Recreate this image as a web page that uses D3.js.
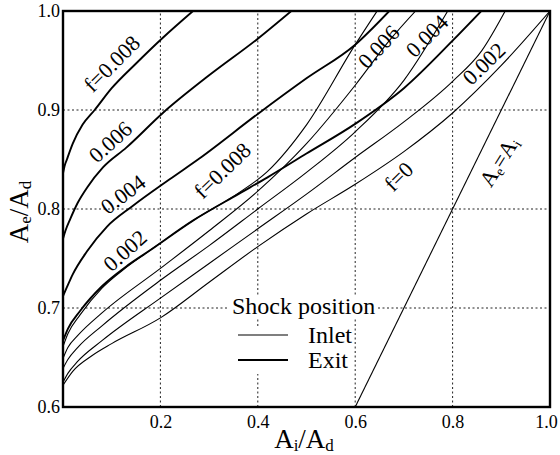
<!DOCTYPE html>
<html>
<head>
<meta charset="utf-8">
<script src="https://cdn.jsdelivr.net/npm/d3@7"></script>
<style>
  body { margin: 0; background: #fff; }
</style>
</head>
<body>
<div id="chart"></div>
<script>
// Shock at exit (thick lines), values as [Ai/Ad, Ae/Ad]
const exit008 = [[0, 0.836], [0.003, 0.843], [0.008, 0.85], [0.02, 0.866], [0.04, 0.885], [0.065, 0.9], [0.1, 0.922], [0.15, 0.947], [0.205, 0.973], [0.267, 1.0]];
const exit006 = [[0, 0.77], [0.005, 0.778], [0.015, 0.79], [0.03, 0.806], [0.05, 0.822], [0.082, 0.842], [0.13, 0.862], [0.205, 0.897], [0.3, 0.935], [0.4, 0.972], [0.469, 1.0]];
const exit004 = [[0, 0.712], [0.008, 0.721], [0.02, 0.734], [0.049, 0.757], [0.09, 0.782], [0.143, 0.803], [0.219, 0.83], [0.28, 0.851], [0.4, 0.896], [0.5, 0.932], [0.6, 0.966], [0.67, 1.0]];
const exit002 = [[0, 0.667], [0.01, 0.679], [0.035, 0.697], [0.08, 0.722], [0.13, 0.742], [0.178, 0.758], [0.266, 0.788], [0.36, 0.815], [0.42, 0.832], [0.5, 0.856], [0.6, 0.886], [0.7, 0.922], [0.8, 0.97], [0.859, 1.0]];

// Shock at inlet (thin lines)
const inlet008 = [[0, 0.661], [0.01, 0.674], [0.035, 0.693], [0.08, 0.72], [0.13, 0.741], [0.178, 0.758], [0.266, 0.788], [0.36, 0.816], [0.42, 0.838], [0.5, 0.885], [0.6, 0.966], [0.645, 1.0]];
const inlet006 = [[0, 0.649], [0.01, 0.66], [0.03, 0.672], [0.08, 0.695], [0.2, 0.74], [0.3, 0.778], [0.4, 0.818], [0.5, 0.866], [0.6, 0.925], [0.67, 0.97], [0.724, 1.0]];
const inlet004 = [[0, 0.639], [0.01, 0.648], [0.03, 0.66], [0.08, 0.682], [0.2, 0.728], [0.3, 0.763], [0.4, 0.8], [0.5, 0.837], [0.6, 0.878], [0.7, 0.93], [0.79, 1.0]];
const inlet002 = [[0, 0.625], [0.01, 0.634], [0.03, 0.646], [0.08, 0.667], [0.2, 0.71], [0.3, 0.745], [0.4, 0.78], [0.5, 0.815], [0.6, 0.852], [0.7, 0.888], [0.8, 0.929], [0.86, 0.96], [0.908, 1.0]];
const noFriction = [[0, 0.622], [0.02, 0.636], [0.06, 0.652], [0.1, 0.664], [0.2, 0.69], [0.3, 0.726], [0.4, 0.762], [0.5, 0.795], [0.6, 0.825], [0.7, 0.858], [0.8, 0.897], [0.9, 0.945], [1.0, 1.0]];
const equalArea = [[0.6, 0.6], [1.0, 1.0]];

const xTicks = [0.2, 0.4, 0.6, 0.8, 1.0];
const yTicks = [0.6, 0.7, 0.8, 0.9, 1.0];
const xGrid = [0.2, 0.4, 0.6, 0.8];
const yGrid = [0.7, 0.8, 0.9];

// curve labels: text, position in data units, rotation
const curveLabels = [
  { text: 'f=0.008', x: 0.1, y: 0.947, angle: -45 },
  { text: '0.006', x: 0.097, y: 0.868, angle: -42 },
  { text: '0.004', x: 0.123, y: 0.815, angle: -37 },
  { text: '0.002', x: 0.127, y: 0.758, angle: -42 },
  { text: 'f=0.008', x: 0.327, y: 0.839, angle: -44 },
  { text: '0.006', x: 0.648, y: 0.964, angle: -47 },
  { text: '0.004', x: 0.747, y: 0.975, angle: -45 },
  { text: '0.002', x: 0.864, y: 0.947, angle: -44 },
  { text: 'f=0', x: 0.689, y: 0.833, angle: -45 }
];

const W = 560, H = 455;
const serif = "'Liberation Serif'";
const svg = d3.select('#chart').append('svg')
  .attr('width', W)
  .attr('height', H);

const x = d3.scaleLinear().domain([0, 1]).range([63, 550]);
const y = d3.scaleLinear().domain([0.6, 1.0]).range([407, 11]);

svg.append('defs').append('clipPath').attr('id', 'plot')
  .append('rect')
  .attr('x', x(0)).attr('y', y(1))
  .attr('width', x(1) - x(0)).attr('height', y(0.6) - y(1));

// grid
svg.append('g').selectAll('line')
  .data(xGrid).enter().append('line')
  .attr('x1', d => x(d)).attr('x2', d => x(d))
  .attr('y1', y(0.6)).attr('y2', y(1))
  .attr('stroke', '#222').attr('stroke-width', 1)
  .attr('stroke-dasharray', '2,2.5');

svg.append('g').selectAll('line')
  .data(yGrid).enter().append('line')
  .attr('x1', x(0)).attr('x2', x(1))
  .attr('y1', d => y(d)).attr('y2', d => y(d))
  .attr('stroke', '#222').attr('stroke-width', 1)
  .attr('stroke-dasharray', '2,2.5');

// legend backgrounds (they hide the grid)
svg.append('rect').attr('x', 229).attr('y', 296).attr('width', 148).attr('height', 23).attr('fill', '#fff');
svg.append('rect').attr('x', 236).attr('y', 326).attr('width', 56).attr('height', 48).attr('fill', '#fff');

const line = d3.line()
  .x(d => x(d[0]))
  .y(d => y(d[1]))
  .curve(d3.curveMonotoneX);

const curves = svg.append('g').attr('clip-path', 'url(#plot)');

[exit008, exit006, exit004, exit002].forEach(c => {
  curves.append('path')
    .datum(c)
    .attr('fill', 'none')
    .attr('stroke', '#000')
    .attr('stroke-width', 1.9)
    .attr('d', line);
});

[inlet008, inlet006, inlet004, inlet002, noFriction, equalArea].forEach(c => {
  curves.append('path')
    .datum(c)
    .attr('fill', 'none')
    .attr('stroke', '#000')
    .attr('stroke-width', 1.1)
    .attr('d', line);
});

// frame
svg.append('rect')
  .attr('x', x(0)).attr('y', y(1))
  .attr('width', x(1) - x(0)).attr('height', y(0.6) - y(1))
  .attr('fill', 'none').attr('stroke', '#000').attr('stroke-width', 2.4);

// axes
const xAxis = svg.append('g')
  .attr('transform', 'translate(0,' + y(0.6) + ')')
  .call(d3.axisBottom(x).tickValues(xTicks).tickSize(0).tickPadding(8).tickFormat(d3.format('.1f')));
const yAxis = svg.append('g')
  .attr('transform', 'translate(' + x(0) + ',0)')
  .call(d3.axisLeft(y).tickValues(yTicks).tickSize(0).tickPadding(3).tickFormat(d3.format('.1f')));
[xAxis, yAxis].forEach(a => {
  a.attr('font-family', null).attr('font-size', null);
  a.select('.domain').remove();
  a.selectAll('text')
    .style('font-family', serif)
    .style('font-size', '18px')
    .attr('fill', '#000');
});
xAxis.selectAll('text').filter(d => d === 1.0).attr('dx', -4);

// axis titles
function areaRatio(sel, sub1, sub2, big, small) {
  sel.style('font-family', serif).style('font-size', big + 'px');
  sel.append('tspan').text('A');
  sel.append('tspan').text(sub1).style('font-size', small + 'px').attr('dy', 3);
  sel.append('tspan').text('/A').attr('dy', -3);
  sel.append('tspan').text(sub2).style('font-size', small + 'px').attr('dy', 3);
}
areaRatio(svg.append('text').attr('x', 304).attr('y', 448).attr('text-anchor', 'middle'), 'i', 'd', 27, 17);
areaRatio(svg.append('text').attr('transform', 'translate(28,212) rotate(-90)').attr('text-anchor', 'middle'), 'e', 'd', 27, 17);

// curve labels
svg.append('g').selectAll('text')
  .data(curveLabels).enter().append('text')
  .attr('transform', d => 'translate(' + x(d.x) + ',' + y(d.y) + ') rotate(' + d.angle + ')')
  .attr('text-anchor', 'middle')
  .attr('dy', '0.35em')
  .style('font-family', serif)
  .style('font-size', '22px')
  .text(d => d.text);

const ae = svg.append('text')
  .attr('transform', 'translate(' + x(0.895) + ',' + y(0.848) + ') rotate(-58)')
  .attr('text-anchor', 'middle')
  .attr('dy', '0.35em')
  .style('font-family', serif)
  .style('font-size', '22px');
ae.append('tspan').text('A');
ae.append('tspan').text('e').style('font-size', '14px').attr('dy', 3);
ae.append('tspan').text('=A').attr('dy', -3);
ae.append('tspan').text('i').style('font-size', '14px').attr('dy', 3);

// legend
const legendText = [
  { text: 'Shock position', x: 232, y: 314 },
  { text: 'Inlet', x: 308, y: 343 },
  { text: 'Exit', x: 308, y: 368 }
];
svg.append('g').selectAll('text')
  .data(legendText).enter().append('text')
  .attr('x', d => d.x).attr('y', d => d.y)
  .style('font-family', serif)
  .style('font-size', '24px')
  .text(d => d.text);
svg.append('line').attr('x1', 238).attr('x2', 288).attr('y1', 335).attr('y2', 335)
  .attr('stroke', '#000').attr('stroke-width', 1.1);
svg.append('line').attr('x1', 238).attr('x2', 288).attr('y1', 360).attr('y2', 360)
  .attr('stroke', '#000').attr('stroke-width', 1.9);
</script>
</body>
</html>
